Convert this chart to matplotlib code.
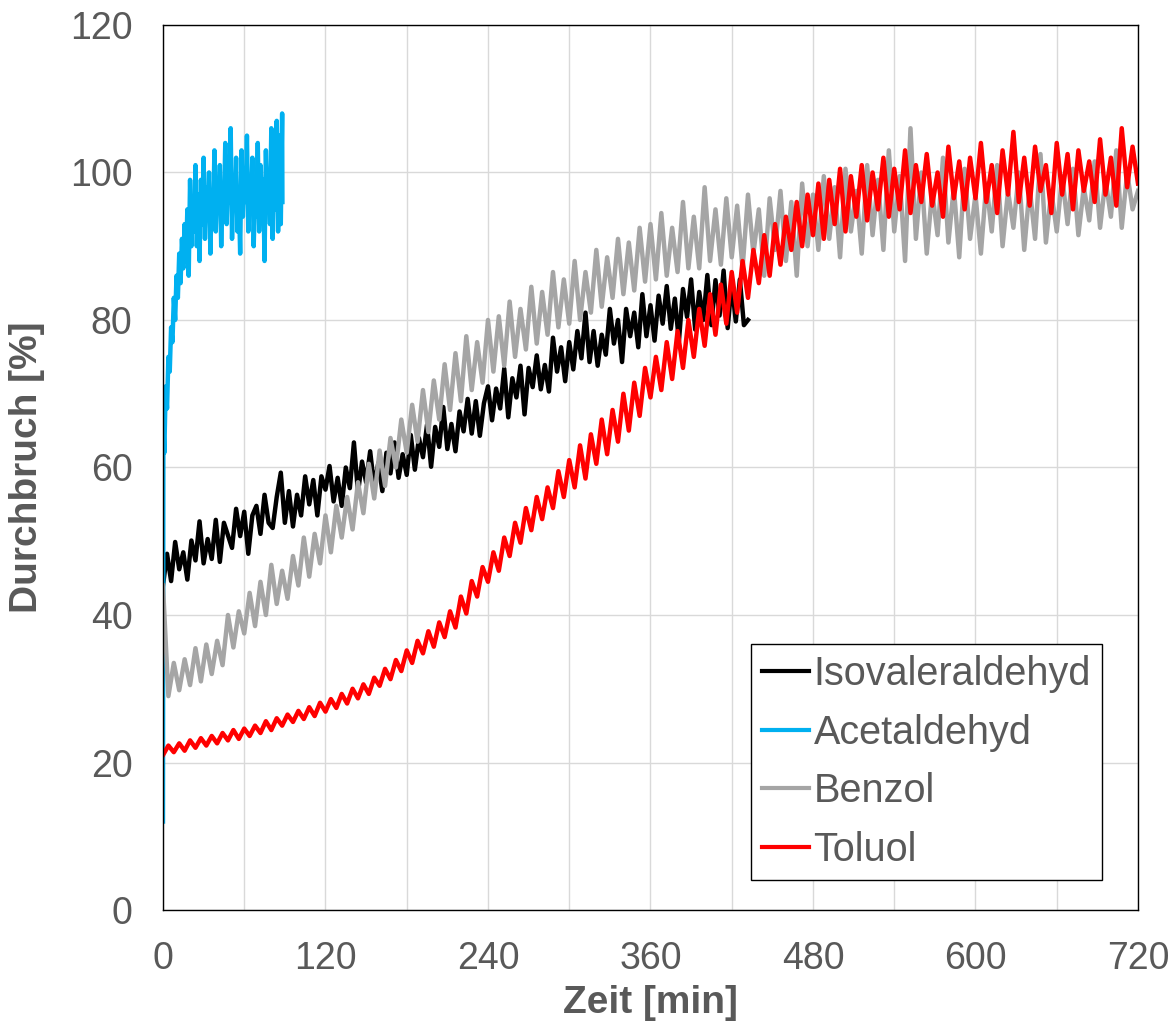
import numpy as np
import matplotlib
matplotlib.use("Agg")
import matplotlib.pyplot as plt

plt.rcParams['font.family'] = ['Liberation Sans', 'DejaVu Sans']

# Werte (Durchbruch in %)
acetaldehyd = [62, 71, 68, 75, 73, 79, 77, 83, 80, 86, 83, 89, 85, 91, 87, 93, 88, 95, 86, 99,
               90, 96, 92, 101, 90, 97, 88, 99, 93, 102, 91, 98, 94, 100, 89, 97, 93, 103, 92, 99,
               95, 101, 90, 98, 94, 104, 93, 100, 96, 106, 91, 99, 95, 102, 92, 97, 89, 103, 94, 100,
               96, 105, 92, 99, 95, 102, 90, 98, 94, 104, 92, 101, 96, 99, 88, 103, 95, 100, 93, 106,
               91, 102, 95, 107, 92, 105, 93, 108]
acet_start = [12, 66]
acet_end = 96

isovaleraldehyd = [44, 48.3, 44.6, 49.9, 46.2, 48.5, 44.8, 50.1, 47.4, 52.7, 47, 50.3, 47.6, 52.9, 47.2,
                   52.5, 50.8, 49.1, 54.4, 50.7, 54, 48.3, 53.5, 54.8, 51, 56.3, 52.5, 51.8, 56, 59.3,
                   52.5, 56.8, 52, 56.3, 53.5, 58.8, 55, 58.3, 53.5, 58.8, 57, 60.2, 55.4, 58.6, 54.8,
                   60, 57.2, 63.4, 56.6, 60.8, 58, 62.2, 57.4, 60.6, 56.8, 62, 59.2, 63.4, 58.6, 61.8,
                   59, 64.4, 59.7, 64, 61.4, 65.8, 60.1, 65.5, 62.8, 68.2, 62.5, 65.9, 62.2, 67.6, 64.9,
                   69.3, 64.6, 69, 64.3, 68.7, 71, 66.4, 70.7, 68, 73.4, 66.8, 72.1, 69.5, 73.8, 67.2,
                   73.5, 70.9, 75.2, 70.6, 73.9, 70.3, 77.6, 73, 76.3, 71.7, 77, 73.3, 78.5, 74.8, 81,
                   74.3, 78.5, 73.8, 78, 75.3, 81.5, 76.8, 80, 74.3, 81.5, 77.8, 81, 76.3, 83.5, 77.8,
                   82, 77.2, 83.3, 79.5, 84.6, 78.8, 82.9, 77.1, 84.2, 80.4, 85.5, 78.7, 83.8, 80, 86.1,
                   79.3, 85.4, 80.6, 86.7, 78.9, 85, 79.8, 85.5, 79.3, 80]

benzol = [44, 29, 33.5, 29.8, 34, 30.5, 35.5, 31, 36, 32, 36.5, 33.2, 40, 35.6, 40.5, 37.5, 43, 38.5,
          44.5, 40, 46.8, 41.5, 46, 42.2, 48, 44, 50.5, 45.2, 51, 47, 53.5, 48.5, 54.8, 50.5, 56, 51.6,
          58, 53.8, 60.5, 55.8, 62.3, 57.5, 64, 60, 66.5, 62, 68.5, 63.5, 70.5, 64.8, 71.8, 66.5, 74,
          67.8, 75.5, 69, 77.8, 70.5, 77, 71.5, 80, 73, 80.5, 73.8, 82.5, 75, 81.5, 76, 84.5, 76.8,
          83.8, 78, 86.5, 79, 85.5, 79.5, 88, 80, 86.5, 81, 89.5, 81.8, 88.5, 83, 91, 83.5, 90.5, 84,
          92.5, 85.2, 93, 85.5, 94.5, 86, 92.5, 86.5, 96, 87, 94, 87, 98, 88, 95, 87.5, 96.5, 88.5,
          95.5, 87, 97, 89, 95, 86, 96.5, 89.5, 97.5, 88, 96, 86, 98.5, 90, 97, 89.5, 99.5, 91, 98,
          88.5, 100.5, 92, 97.5, 89, 101, 91.5, 99, 89.5, 103, 92, 99.5, 88, 106, 91, 100, 89, 97.5,
          91.5, 102, 90.5, 98, 88.5, 100.5, 91, 97, 89, 98.5, 92, 101, 90, 97.5, 92.5, 100, 89.5, 98,
          91, 102.5, 90.5, 97.5, 92, 99.5, 93, 100.5, 91.5, 98, 93.5, 101.5, 92.5, 99, 94, 103, 92.5,
          100, 95, 97.5]

toluol = [21, 22.3, 21.4, 22.6, 21.6, 23, 22, 23.3, 22.3, 23.6, 22.6, 24, 23, 24.4, 23.2, 24.6,
          23.6, 25, 24, 25.6, 24.4, 26, 25, 26.5, 25.5, 27, 25.9, 27.5, 26.3, 28.1, 26.9, 28.6, 27.4,
          29.3, 28, 30, 28.7, 30.6, 29.3, 31.5, 30.4, 32.7, 31.3, 33.9, 32.4, 35.2, 33.5, 36.5, 34.8,
          37.8, 35.7, 39, 37, 40.5, 38.3, 42.5, 40.2, 44.6, 42.5, 46.5, 44.5, 48.5, 46, 50.5, 48,
          52.5, 49.8, 54.5, 51.5, 56, 53, 57.3, 54.5, 59.5, 56, 61, 57.3, 63, 58.5, 64.5, 60.5, 66.5,
          61.8, 67.8, 63.5, 70, 65, 71.5, 67, 73.5, 69.5, 75, 70.5, 77, 72, 78.5, 73.5, 80, 75, 81.5,
          76.5, 83.5, 78, 84.8, 79.5, 86.5, 81, 88, 83, 89.5, 85, 91.5, 86, 93, 87.5, 94, 89.5, 96,
          90, 97, 91.5, 98.5, 91, 99, 93, 100.5, 92, 99.5, 94, 101, 93.5, 100, 95, 102, 94, 100.5,
          95, 103, 94.5, 101, 96, 102.5, 95.5, 100, 94, 103.5, 96.5, 101.5, 95, 102, 96.5, 104, 96,
          101, 94.5, 103, 97, 105.5, 96, 102, 95.5, 103.5, 97.5, 101, 94.5, 104, 97, 102.5, 95, 103,
          97.5, 101.5, 96, 104.5, 97, 102, 95.5, 106, 98, 103.5, 98.5]

labels = ['Isovaleraldehyd', 'Acetaldehyd', 'Benzol', 'Toluol']
farben = ['#000000', '#00B0F0', '#A5A5A5', '#FF0000']

# Zeitachsen (Messwerte gleichmäßig abgetastet)
t_acet = np.r_[0, 0.3, np.linspace(1, 88, len(acetaldehyd)), 88.2]
y_acet = acet_start + acetaldehyd + [acet_end]
t_iso = np.linspace(0, 432, len(isovaleraldehyd))
t_benz = np.linspace(0, 720, len(benzol))
t_tol = np.linspace(0, 720, len(toluol))

fig = plt.figure(figsize=(11.75, 10.36), dpi=100)
ax = fig.add_axes([0.1387, 0.1216, 0.8298, 0.8543])

serien = [(t_iso, isovaleraldehyd), (t_acet, y_acet), (t_benz, benzol), (t_tol, toluol)]
for (t, y), lab, c in zip(serien, labels, farben):
    ax.plot(t, y, color=c, lw=3.2, label=lab, solid_joinstyle='round')

ax.set_xlim(0, 720)
ax.set_ylim(0, 120)
ax.set_xticks(np.arange(0, 721, 120))
ax.set_xticks(np.arange(60, 720, 120), minor=True)
ax.set_yticks(np.arange(0, 121, 20))
ax.grid(True, which='both', color='#D9D9D9', lw=1.0)
ax.set_axisbelow(True)
ax.tick_params(which='both', length=0, labelsize=27, labelcolor='#595959', pad=22)

for s in ax.spines.values():
    s.set_color('black')
    s.set_linewidth(1.0)

ax.set_xlabel('Zeit [min]', fontsize=28, fontweight='bold', color='#595959', labelpad=6)
ax.set_ylabel('Durchbruch [%]', fontsize=28, fontweight='bold', color='#595959', labelpad=18)

leg = ax.legend(loc='lower right', bbox_to_anchor=(0.963, 0.034), fontsize=28.5,
                frameon=True, fancybox=False, framealpha=1, edgecolor='black',
                handlelength=1.2, handletextpad=0.1, labelspacing=0.52, borderpad=0.28,
                borderaxespad=0)
leg.get_frame().set_linewidth(1.0)
for txt in leg.get_texts():
    txt.set_color('#595959')
for ln in leg.get_lines():
    ln.set_linewidth(3)

fig.savefig('out.png', dpi=100)
